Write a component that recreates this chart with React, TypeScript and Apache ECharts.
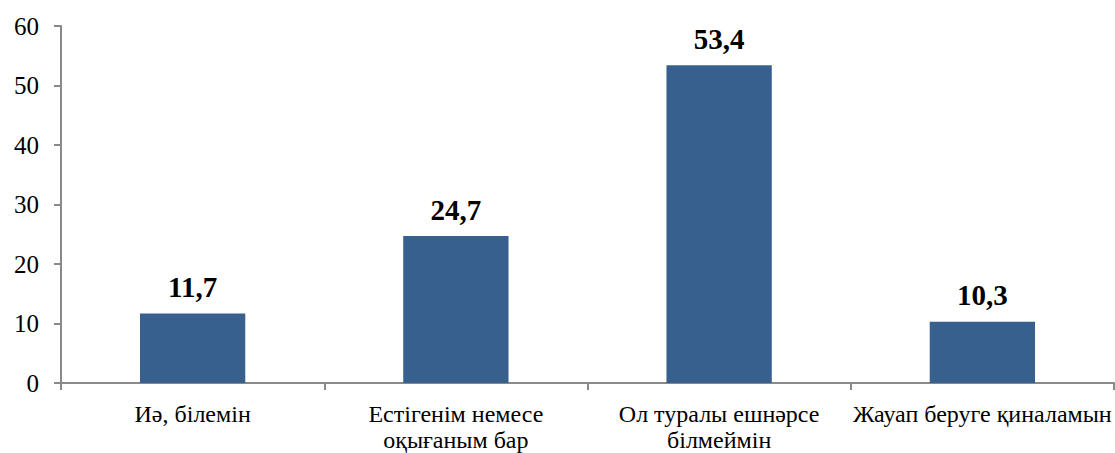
import React, { useEffect, useRef } from "react";
import * as echarts from "echarts";

const categories = [
  "Иә, білемін",
  "Естігенім немесе\nоқығаным бар",
  "Ол туралы ешнәрсе\nбілмеймін",
  "Жауап беруге қиналамын",
];
const values = [11.7, 24.7, 53.4, 10.3];
const yTicks = { min: 0, max: 60, interval: 10 };

const FONT = "Liberation Serif";

export default function App() {
  const ref = useRef<HTMLDivElement>(null);
  useEffect(() => {
    const chart = echarts.init(ref.current!, undefined, { renderer: "svg" });
    chart.setOption({
      animation: false,
      grid: { left: 61, right: 1, top: 26, bottom: 68 },
      xAxis: {
        type: "category",
        data: categories,
        axisLine: { lineStyle: { color: "#898989", width: 2 } },
        axisTick: { show: true, length: 7, alignWithLabel: false, lineStyle: { color: "#898989", width: 2 } },
        axisLabel: {
          color: "#000",
          fontSize: 24,
          fontFamily: FONT,
          margin: 18,
          lineHeight: 26,
          interval: 0,
        },
      },
      yAxis: {
        type: "value",
        min: yTicks.min,
        max: yTicks.max,
        interval: yTicks.interval,
        splitLine: { show: false },
        axisLine: { show: true, lineStyle: { color: "#898989", width: 2 } },
        axisTick: { show: true, length: 7, lineStyle: { color: "#898989", width: 2 } },
        axisLabel: {
          color: "#000",
          fontSize: 25,
          fontFamily: FONT,
          margin: 22,
        },
      },
      series: [
        {
          type: "bar",
          data: values,
          barWidth: "40%",
          itemStyle: { color: "#37608F" },
          label: {
            show: true,
            position: "top",
            distance: 12,
            color: "#000",
            fontSize: 29,
            fontWeight: "bold",
            fontFamily: FONT,
            formatter: (p: any) => String(p.value).replace(".", ","),
          },
        },
      ],
    });
    return () => chart.dispose();
  }, []);
  return (
    <div
      ref={ref}
      style={{ position: "fixed", left: 0, top: 0, width: 1115, height: 453, background: "#fff" }}
    />
  );
}
